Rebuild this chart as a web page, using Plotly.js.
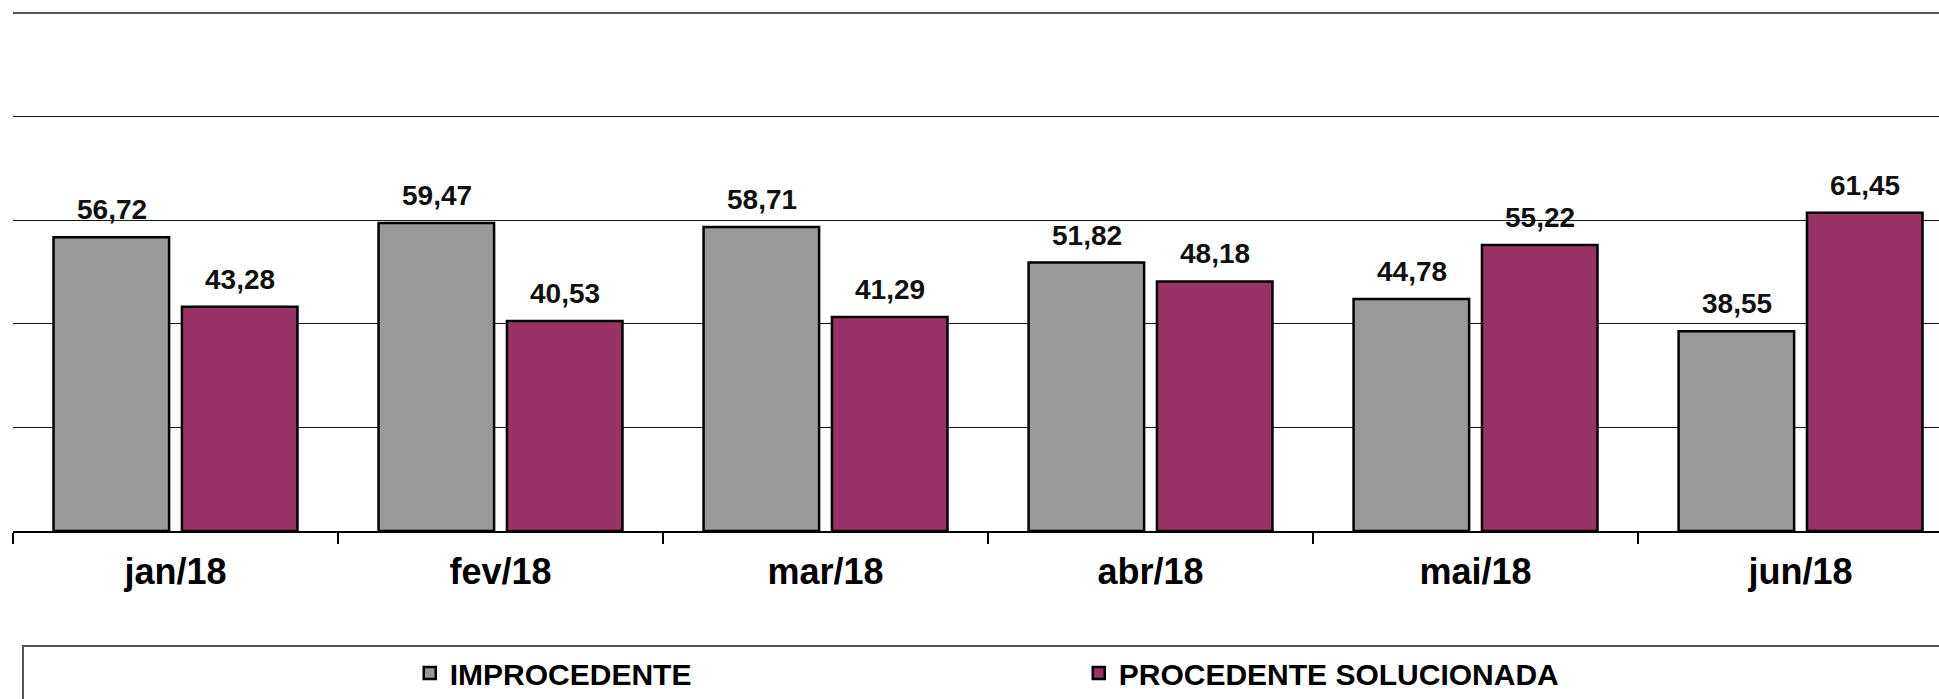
<!DOCTYPE html>
<html>
<head>
<meta charset="utf-8">
<script src="https://cdn.plot.ly/plotly-3.0.1.min.js"></script>
<style>
  html, body { margin: 0; padding: 0; background: #ffffff; }
  #chart { width: 1939px; height: 699px; }
</style>
</head>
<body>
<div id="chart"></div>
<script>
// ---- data ----
const months = ["jan/18", "fev/18", "mar/18", "abr/18", "mai/18", "jun/18"];
const improcedente = [56.72, 59.47, 58.71, 51.82, 44.78, 38.55];
const procedenteSolucionada = [43.28, 40.53, 41.29, 48.18, 55.22, 61.45];
const seriesNames = ["IMPROCEDENTE", "PROCEDENTE SOLUCIONADA"];

// ---- style ----
const FONT = "Liberation Sans, Arial, Helvetica, sans-serif";
const GRAY = "#999999";
const PURPLE = "#993366";
const fmt = v => v.toFixed(2).replace(".", ",");

const traces = [
  {
    type: "bar", name: seriesNames[0], x: months, y: improcedente,
    marker: { color: GRAY, line: { color: "#000000", width: 2.5 } },
    hoverinfo: "x+y"
  },
  {
    type: "bar", name: seriesNames[1], x: months, y: procedenteSolucionada,
    marker: { color: PURPLE, line: { color: "#000000", width: 2.5 } },
    hoverinfo: "x+y"
  }
];

// value labels above bars (grouped offset in px)
const annotations = [];
const groupOffset = 64;
[improcedente, procedenteSolucionada].forEach((arr, si) => {
  arr.forEach((v, i) => {
    annotations.push({
      x: months[i], y: v, xref: "x", yref: "y",
      text: fmt(v), showarrow: false,
      xanchor: "center", yanchor: "bottom",
      xshift: si === 0 ? -groupOffset : groupOffset,
      yshift: 10,
      font: { family: FONT, size: 28, color: "#111111", weight: "bold" }
    });
  });
});

const layout = {
  width: 1939, height: 699,
  margin: { l: 13, r: 0, t: 13, b: 168, pad: 0, autoexpand: false },
  paper_bgcolor: "#ffffff", plot_bgcolor: "#ffffff",
  barmode: "group", bargap: 0.21, bargroupgap: 0.1,
  showlegend: true,
  legend: {
    orientation: "h", x: 0.206, xanchor: "left", y: -0.274, yanchor: "middle",
    font: { family: FONT, size: 30, color: "#000000", weight: "bold" },
    entrywidth: 624, entrywidthmode: "pixels",
    bgcolor: "rgba(0,0,0,0)", borderwidth: 0, traceorder: "normal"
  },
  xaxis: {
    type: "category", range: [-0.5, 5.426],
    showgrid: false, zeroline: false,
    showline: true, linecolor: "#000000", linewidth: 2,
    ticks: "outside", tickson: "boundaries", ticklen: 11, tickwidth: 1.3, tickcolor: "#000000",
    tickfont: { family: FONT, size: 36, color: "#000000", weight: "bold" },
    ticklabelstandoff: 8,
    automargin: false,
    fixedrange: true
  },
  yaxis: {
    range: [0, 100], dtick: 20, tick0: 0,
    showgrid: true, gridcolor: "#1a1a1a", gridwidth: 1.3,
    zeroline: false, showline: false, showticklabels: false, ticks: "",
    automargin: false,
    fixedrange: true
  },
  shapes: [
    {
      type: "line", xref: "paper", yref: "paper",
      x0: 0, x1: 1, y0: 1, y1: 1,
      line: { color: "#555555", width: 2 }, layer: "below"
    },
    {
      type: "rect", xref: "paper", yref: "paper",
      x0: (23 - 13) / 1926, x1: 1.02, y0: -(646 - 531) / 518, y1: -0.6,
      line: { color: "#555555", width: 2 }, fillcolor: "rgba(0,0,0,0)", layer: "below"
    }
  ],
  annotations: annotations
};

Plotly.newPlot("chart", traces, layout, { displayModeBar: false, staticPlot: true });
</script>
</body>
</html>
